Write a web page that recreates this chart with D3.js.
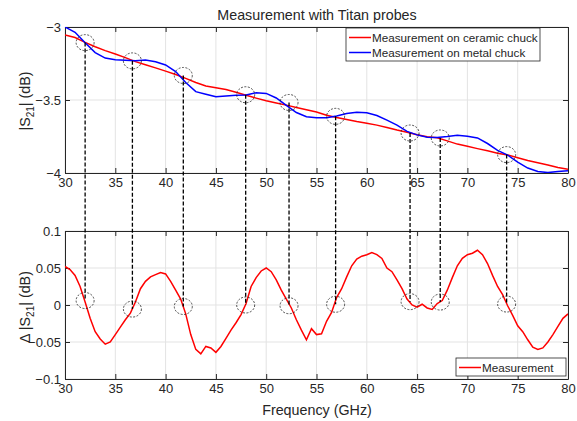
<!DOCTYPE html>
<html>
<head>
<meta charset="utf-8">
<script src="https://cdn.jsdelivr.net/npm/d3@7"></script>
<style>
  body { margin: 0; background: #fff; }
  text { font-family: "Liberation Sans", Arial, sans-serif; fill: #262626; }
</style>
</head>
<body>
<svg width="577" height="421"></svg>
<script>
// frequencies (GHz) of the top curves, 1 GHz apart
var freqTop = d3.range(30, 81, 1);

// |S21| on ceramic chuck (dB)
var ceramic = [-3.055, -3.072, -3.105, -3.135, -3.162, -3.185, -3.21, -3.237, -3.258, -3.28,
  -3.302, -3.325, -3.352, -3.38, -3.404, -3.416, -3.428, -3.447, -3.468, -3.487,
  -3.505, -3.52, -3.535, -3.552, -3.567, -3.582, -3.604, -3.62, -3.634, -3.648,
  -3.66, -3.672, -3.688, -3.706, -3.721, -3.738, -3.751, -3.758, -3.78, -3.802,
  -3.817, -3.833, -3.848, -3.864, -3.876, -3.895, -3.915, -3.93, -3.945, -3.962, -3.975];

// |S21| on metal chuck (dB)
var metal = [-3.0, -3.036, -3.108, -3.175, -3.213, -3.225, -3.228, -3.232, -3.226, -3.238,
  -3.26, -3.305, -3.38, -3.443, -3.46, -3.478, -3.472, -3.468, -3.465, -3.45,
  -3.455, -3.486, -3.537, -3.586, -3.615, -3.622, -3.622, -3.61, -3.592, -3.584,
  -3.588, -3.606, -3.638, -3.672, -3.715, -3.739, -3.755, -3.756, -3.75, -3.742,
  -3.748, -3.76, -3.798, -3.845, -3.877, -3.925, -3.966, -3.99, -3.997, -3.99, -3.985];

// frequencies of the difference curve, 0.5 GHz apart
var freqDelta = d3.range(30, 80.01, 0.5);

// difference metal - ceramic (dB)
var delta = [0.052, 0.048, 0.04, 0.025, 0.004, -0.018, -0.036, -0.046, -0.053, -0.05,
  -0.04, -0.03, -0.02, -0.011, 0.004, 0.022, 0.032, 0.038, 0.041, 0.044,
  0.042, 0.032, 0.02, 0.008, -0.012, -0.04, -0.06, -0.066, -0.056, -0.058,
  -0.064, -0.056, -0.045, -0.034, -0.024, -0.013, 0.002, 0.025, 0.037, 0.046,
  0.05, 0.045, 0.034, 0.02, 0.008, -0.004, -0.02, -0.034, -0.047, -0.032,
  -0.04, -0.039, -0.022, -0.01, 0.01, 0.022, 0.038, 0.053, 0.062, 0.066,
  0.068, 0.071, 0.068, 0.063, 0.05, 0.045, 0.034, 0.022, 0.008, 0.0,
  -0.003, 0.001, -0.004, -0.006, 0.002, 0.006, 0.02, 0.037, 0.053, 0.063,
  0.068, 0.07, 0.074, 0.068, 0.056, 0.04, 0.025, 0.014, -0.001, -0.014,
  -0.028, -0.036, -0.047, -0.057, -0.06, -0.058, -0.05, -0.04, -0.029, -0.018, -0.012];

// crossing points marked with circles
var markerFreq = [32.0, 36.7, 41.76, 47.96, 52.27, 56.9, 64.3, 67.3, 73.9];
var markerTop = [-3.107, -3.232, -3.332, -3.464, -3.517, -3.612, -3.726, -3.76, -3.874];
var markerBot = [0.006, -0.0055, -0.002, 0, -0.001, 0.001, 0.0045, 0.004, 0.0013];

var xTicks = [30, 35, 40, 45, 50, 55, 60, 65, 70, 75, 80];
var yTopTicks = [-4, -3.5, -3];
var yBotTicks = [-0.1, -0.05, 0, 0.05, 0.1];

var svg = d3.select("svg");
var axisColor = "#262626", gridColor = "#e3e3e3";

var x = d3.scaleLinear().domain([30, 80]).range([65, 568]);
var yTop = d3.scaleLinear().domain([-4, -3]).range([173, 27]);
var yBot = d3.scaleLinear().domain([-0.1, 0.1]).range([379, 231]);

// draws one MATLAB-style box with grid, ticks on all four sides
function drawPanel(y, yTicks, clipId) {
  var x0 = x.range()[0], x1 = x.range()[1];
  var yb = y.range()[0], yt = y.range()[1];
  var g = svg.append("g");

  g.selectAll(".vgrid").data(xTicks).enter().append("line")
    .attr("x1", function(d) { return x(d); }).attr("x2", function(d) { return x(d); })
    .attr("y1", yt).attr("y2", yb)
    .attr("stroke", gridColor).attr("stroke-width", 1);
  g.selectAll(".hgrid").data(yTicks).enter().append("line")
    .attr("y1", function(d) { return y(d); }).attr("y2", function(d) { return y(d); })
    .attr("x1", x0).attr("x2", x1)
    .attr("stroke", gridColor).attr("stroke-width", 1);

  svg.append("clipPath").attr("id", clipId).append("rect")
    .attr("x", x0).attr("y", yt).attr("width", x1 - x0).attr("height", yb - yt);

  // axes with inward ticks
  var ax = [
    {a: d3.axisBottom(x).tickValues(xTicks).tickSize(-5).tickPadding(5).tickFormat(d3.format("d")), t: "translate(0," + yb + ")"},
    {a: d3.axisTop(x).tickValues(xTicks).tickSize(-5).tickFormat(""), t: "translate(0," + yt + ")"},
    {a: d3.axisLeft(y).tickValues(yTicks).tickSize(-5).tickPadding(4).tickFormat(d3.format("")), t: "translate(" + x0 + ",0)"},
    {a: d3.axisRight(y).tickValues(yTicks).tickSize(-5).tickFormat(""), t: "translate(" + x1 + ",0)"}
  ];
  ax.forEach(function(o) {
    var ag = svg.append("g").attr("transform", o.t).call(o.a.tickSizeOuter(0));
    ag.select(".domain").attr("stroke", axisColor);
    ag.selectAll(".tick line").attr("stroke", axisColor);
    ag.selectAll("text").attr("fill", axisColor).style("font-size", "13px")
      .style("font-family", '"Liberation Sans", Arial, sans-serif');
  });
  return g;
}

drawPanel(yTop, yTopTicks, "clipTop");
drawPanel(yBot, yBotTicks, "clipBot");

var lineTop = function(vals) {
  return d3.line().x(function(d, i) { return x(freqTop[i]); }).y(function(d) { return yTop(d); })(vals);
};

svg.append("path").attr("d", lineTop(ceramic)).attr("clip-path", "url(#clipTop)")
  .attr("fill", "none").attr("stroke", "#ff0000").attr("stroke-width", 1.5);
svg.append("path").attr("d", lineTop(metal)).attr("clip-path", "url(#clipTop)")
  .attr("fill", "none").attr("stroke", "#0000ff").attr("stroke-width", 1.5);

svg.append("path")
  .attr("d", d3.line().x(function(d, i) { return x(freqDelta[i]); }).y(function(d) { return yBot(d); })(delta))
  .attr("clip-path", "url(#clipBot)")
  .attr("fill", "none").attr("stroke", "#ff0000").attr("stroke-width", 1.5);

// dashed connectors and circles
var mk = markerFreq.map(function(f, i) { return {f: f, t: markerTop[i], b: markerBot[i]}; });

svg.selectAll(".conn").data(mk).enter().append("line")
  .attr("x1", function(d) { return x(d.f); }).attr("x2", function(d) { return x(d.f); })
  .attr("y1", function(d) { return yTop(d.t); }).attr("y2", function(d) { return yBot(d.b); })
  .attr("stroke", "#000").attr("stroke-width", 1.3).attr("stroke-dasharray", "4,2");

svg.selectAll(".cTop").data(mk).enter().append("ellipse")
  .attr("cx", function(d) { return x(d.f); }).attr("cy", function(d) { return yTop(d.t); })
  .attr("rx", 9).attr("ry", 8)
  .attr("fill", "none").attr("stroke", "#222").attr("stroke-width", 0.8).attr("stroke-dasharray", "2,1.5");
svg.selectAll(".cBot").data(mk).enter().append("ellipse")
  .attr("cx", function(d) { return x(d.f); }).attr("cy", function(d) { return yBot(d.b); })
  .attr("rx", 9).attr("ry", 8)
  .attr("fill", "none").attr("stroke", "#222").attr("stroke-width", 0.8).attr("stroke-dasharray", "2,1.5");

// legends
function legend(x0, y0, w, items) {
  var h = items.length * 15 + 3;
  svg.append("rect").attr("x", x0).attr("y", y0).attr("width", w).attr("height", h)
    .attr("fill", "#fff").attr("stroke", axisColor).attr("stroke-width", 0.8);
  items.forEach(function(it, i) {
    var yy = y0 + 9.5 + i * 15;
    svg.append("line").attr("x1", x0 + 3).attr("x2", x0 + 25).attr("y1", yy).attr("y2", yy)
      .attr("stroke", it.c).attr("stroke-width", 1.5);
    svg.append("text").attr("x", x0 + 26).attr("y", yy + 4).style("font-size", "11.7px")
      .text(it.t);
  });
}
legend(346, 28, 194, [{c: "#ff0000", t: "Measurement on ceramic chuck"}, {c: "#0000ff", t: "Measurement on metal chuck"}]);
legend(456, 358, 110, [{c: "#ff0000", t: "Measurement"}]);

// title and labels
svg.append("text").attr("x", 317).attr("y", 20).attr("text-anchor", "middle")
  .style("font-size", "14.3px").text("Measurement with Titan probes");
svg.append("text").attr("x", 317).attr("y", 415).attr("text-anchor", "middle")
  .style("font-size", "14.3px").text("Frequency (GHz)");

var lt = svg.append("text").attr("transform", "translate(30,101) rotate(-90)")
  .attr("text-anchor", "middle").style("font-size", "14.3px");
lt.append("tspan").text("|S");
lt.append("tspan").attr("dy", 3.5).style("font-size", "10px").text("21");
lt.append("tspan").attr("dy", -3.5).text("| (dB)");

var lb = svg.append("text").attr("transform", "translate(30,307) rotate(-90)")
  .attr("text-anchor", "middle").style("font-size", "14.3px");
lb.append("tspan").text("\u0394 |S");
lb.append("tspan").attr("dy", 3.5).style("font-size", "10px").text("21");
lb.append("tspan").attr("dy", -3.5).text("| (dB)");
</script>
</body>
</html>
